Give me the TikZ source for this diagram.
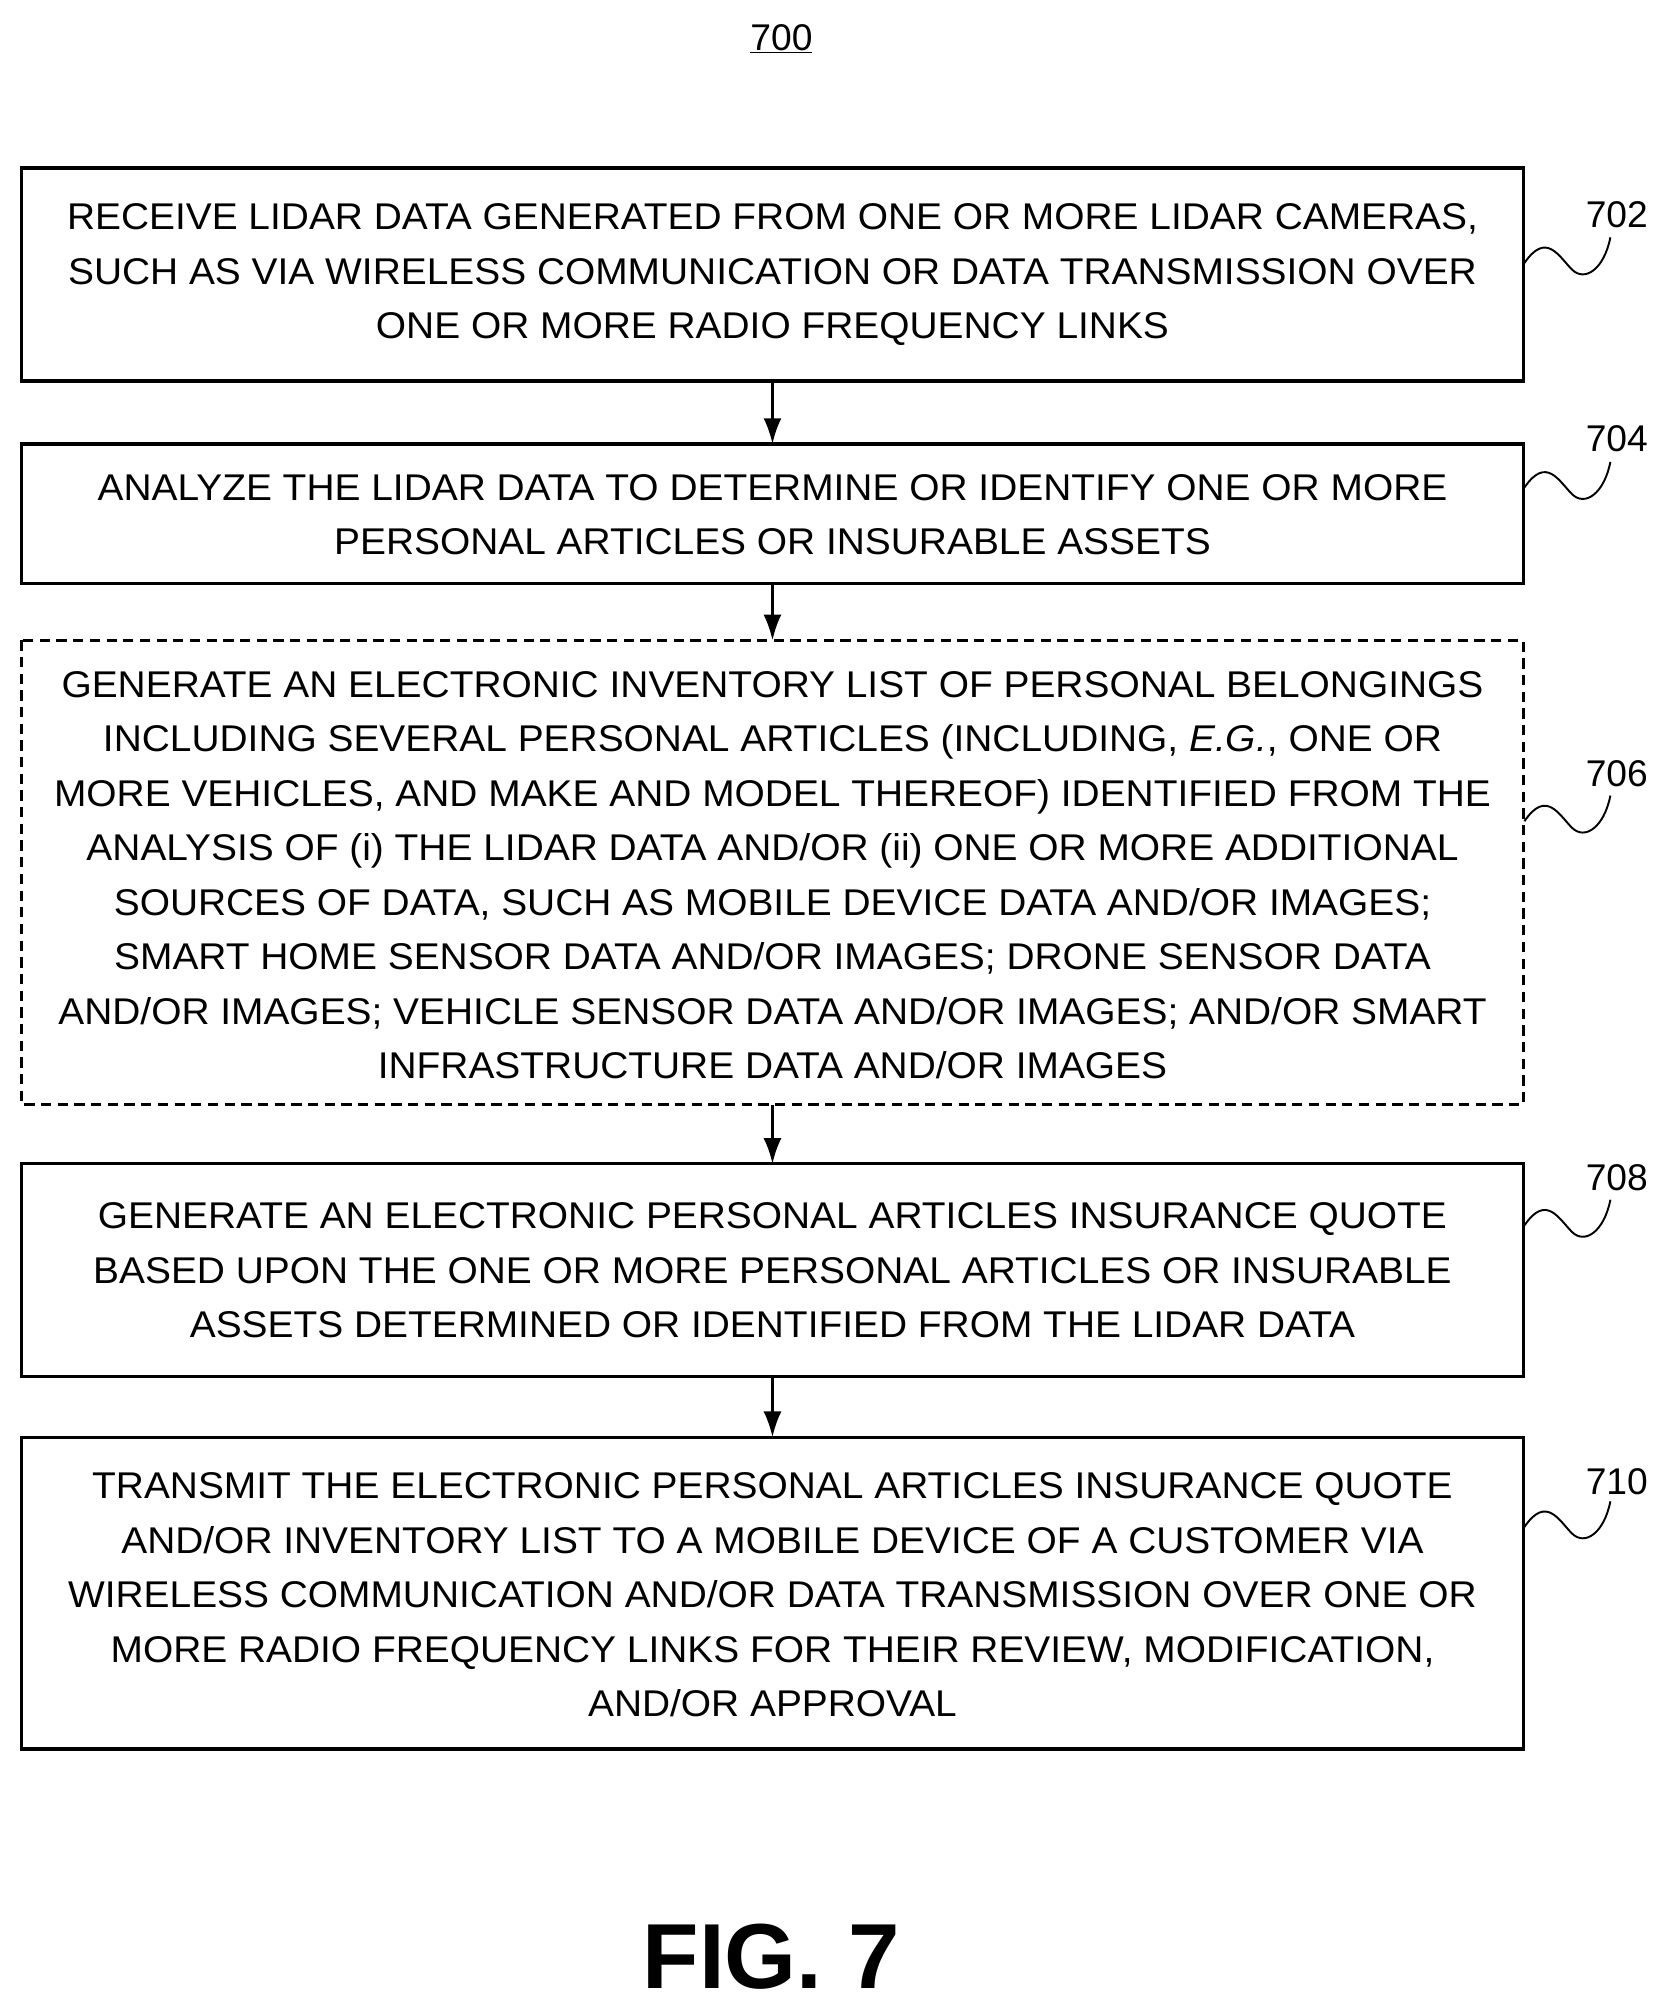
\documentclass[tikz,border=0pt]{standalone}
\usepackage{fontspec}
\setmainfont{Liberation Sans}
\usetikzlibrary{arrows.meta}
\begin{document}
\begin{tikzpicture}[x=1pt,y=-1pt,
 box/.style={draw,line width=2.5pt},
 txt/.style={align=center,font=\fontsize{29}{42.5}\selectfont},
 lab/.style={font=\fontsize{29}{34}\selectfont},
 arr/.style={-{Latex[length=20pt,width=14pt]},line width=2pt},
 sq/.style={line width=1.5pt}]
\useasboundingbox (0,0) rectangle (1300,1568);
\node[lab] (t700) at (609,30) {\underline{700}};
\draw[box] (17,131) rectangle (1187,297); \coordinate (b1t) at (602,131); \coordinate (b1b) at (602,297);
\draw[box] (17,346) rectangle (1187,455); \coordinate (b2t) at (602,346); \coordinate (b2b) at (602,455);
\draw[box,dashed,dash pattern=on 8pt off 5pt] (17,499) rectangle (1187,861); \coordinate (b3t) at (602,499); \coordinate (b3b) at (602,861);
\draw[box] (17,907) rectangle (1187,1073); \coordinate (b4t) at (602,907); \coordinate (b4b) at (602,1073);
\draw[box] (17,1120) rectangle (1187,1363); \coordinate (b5t) at (602,1120);
\node[txt,xscale=1.045] (n1) at (602,214) {RECEIVE LIDAR DATA GENERATED FROM ONE OR MORE LIDAR CAMERAS,\\SUCH AS VIA WIRELESS COMMUNICATION OR DATA TRANSMISSION OVER\\ONE OR MORE RADIO FREQUENCY LINKS};
\node[txt,xscale=1.045] (n2) at (602,401) {ANALYZE THE LIDAR DATA TO DETERMINE OR IDENTIFY ONE OR MORE\\PERSONAL ARTICLES OR INSURABLE ASSETS};
\node[txt,xscale=1.045] (n3) at (602,682) {GENERATE AN ELECTRONIC INVENTORY LIST OF PERSONAL BELONGINGS\\INCLUDING SEVERAL PERSONAL ARTICLES (INCLUDING, \textit{E.G.}, ONE OR\\MORE VEHICLES, AND MAKE AND MODEL THEREOF) IDENTIFIED FROM THE\\ANALYSIS OF (i) THE LIDAR DATA AND/OR (ii) ONE OR MORE ADDITIONAL\\SOURCES OF DATA, SUCH AS MOBILE DEVICE DATA AND/OR IMAGES;\\SMART HOME SENSOR DATA AND/OR IMAGES; DRONE SENSOR DATA\\AND/OR IMAGES; VEHICLE SENSOR DATA AND/OR IMAGES; AND/OR SMART\\INFRASTRUCTURE DATA AND/OR IMAGES};
\node[txt,xscale=1.045] (n4) at (602,990) {GENERATE AN ELECTRONIC PERSONAL ARTICLES INSURANCE QUOTE\\BASED UPON THE ONE OR MORE PERSONAL ARTICLES OR INSURABLE\\ASSETS DETERMINED OR IDENTIFIED FROM THE LIDAR DATA};
\node[txt,xscale=1.045] (n5) at (602,1243) {TRANSMIT THE ELECTRONIC PERSONAL ARTICLES INSURANCE QUOTE\\AND/OR INVENTORY LIST TO A MOBILE DEVICE OF A CUSTOMER VIA\\WIRELESS COMMUNICATION AND/OR DATA TRANSMISSION OVER ONE OR\\MORE RADIO FREQUENCY LINKS FOR THEIR REVIEW, MODIFICATION,\\AND/OR APPROVAL};
\draw[arr] (b1b) -- (b2t);
\draw[arr] (b2b) -- (b3t);
\draw[arr] (b3b) -- (b4t);
\draw[arr] (b4b) -- (b5t);
\foreach \n/\y/\ly in {702/205/167,704/380/342,706/640/603,708/955/918,710/1190/1155}{
 \node[lab] (l\n) at (1260,\ly) {\n};
 \coordinate (s\n) at (1188,\y);
 \draw[sq] (s\n) .. controls (1205,\y-25) and (1215,\y-5) .. (1225,\y+5) .. controls (1235,\y+15) and (1250,\y+5) .. (1255,\y-20);
}
\node[font=\bfseries\fontsize{72}{80}\selectfont] (fig) at (601,1525) {FIG. 7};
\end{tikzpicture}
\end{document}
